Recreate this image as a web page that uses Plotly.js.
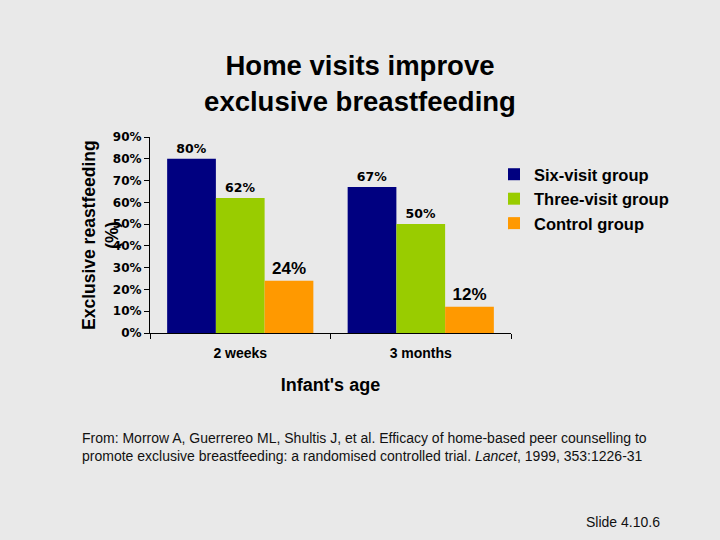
<!DOCTYPE html>
<html>
<head>
<meta charset="utf-8">
<script src="https://cdn.plot.ly/plotly-3.0.1.min.js"></script>
<style>html,body{margin:0;padding:0;background:#e9e9e9;}#chart{width:720px;height:540px;}</style>
</head>
<body>
<div id="chart"></div>
<script>
const categories = ["2 weeks", "3 months"];
const seriesNames = ["Six-visit group", "Three-visit group", "Control group"];
const sixVisit = [80, 67];
const threeVisit = [62, 50];
const control = [24, 12];
const seriesColors = ["#000080", "#99CC00", "#FF9900"];
const labelSizes = [12.5, 12.5, 17];
const labelFonts = ["DejaVu Sans, sans-serif", "DejaVu Sans, sans-serif", "Liberation Sans, Arial, sans-serif"];
const yTickVals = [0, 10, 20, 30, 40, 50, 60, 70, 80, 90];
const yTickText = yTickVals.map(v => v + "%");

const seriesValues = [sixVisit, threeVisit, control];
const traces = seriesValues.map((vals, i) => ({
  type: "bar",
  name: seriesNames[i],
  x: categories,
  y: vals,
  marker: {color: seriesColors[i]},
  text: vals.map(v => v + "%"),
  texttemplate: "%{text}",
  textposition: "outside",
  cliponaxis: false,
  textfont: {family: labelFonts[i], size: labelSizes[i], color: "#000", weight: "bold"},
  hoverinfo: "none"
}));

const W = 720, H = 540, L = 150, R = 511, T = 137, B = 333;
const px = x => (x - L) / (R - L);
const py = y => (B - y) / (B - T);

const layout = {
  width: W, height: H,
  paper_bgcolor: "#e9e9e9",
  plot_bgcolor: "rgba(0,0,0,0)",
  margin: {l: L, r: W - R, t: T, b: H - B, pad: 0},
  font: {family: "Liberation Sans, Arial, sans-serif", color: "#000"},
  title: {
    text: "Home visits improve<br>exclusive breastfeeding",
    font: {size: 27.5, weight: "bold", color: "#000"},
    x: 0.5, xref: "container", xanchor: "center",
    y: 1 - 75 / 540, yref: "container", yanchor: "middle"
  },
  barmode: "group",
  bargap: 0.19,
  bargroupgap: 0,
  showlegend: true,
  legend: {
    x: px(494), xanchor: "left", y: py(157), yanchor: "top",
    bgcolor: "rgba(0,0,0,0)",
    font: {size: 16.5, weight: "bold", color: "#000"},
    itemwidth: 30, tracegroupgap: 0
  },
  xaxis: {
    type: "category",
    showline: true, linecolor: "#000", linewidth: 1,
    ticks: "outside", tickson: "boundaries", ticklen: 5, tickcolor: "#000",
    ticklabelstandoff: 7,
    tickfont: {size: 14, weight: "bold", color: "#000"},
    showgrid: false, zeroline: false,
    title: {text: "Infant's age", font: {size: 18, weight: "bold", color: "#000"}, standoff: 18}
  },
  yaxis: {
    range: [0, 90],
    tickvals: yTickVals, ticktext: yTickText,
    showline: true, linecolor: "#000", linewidth: 1,
    ticks: "outside", ticklen: 5, tickcolor: "#000",
    tickfont: {family: "DejaVu Sans, sans-serif", size: 12, weight: "bold", color: "#000"},
    showgrid: false, zeroline: false
  },
  annotations: [
    {
      text: "Exclusive reastfeeding<br>(%)",
      textangle: -90,
      xref: "paper", yref: "paper",
      x: px(100), y: py(235), xanchor: "center", yanchor: "middle",
      showarrow: false,
      font: {size: 17.5, weight: "bold", color: "#000"}
    },
    {
      text: "From: Morrow A, Guerrereo ML, Shultis J, et al. Efficacy of home-based peer counselling to<br>promote exclusive breastfeeding: a randomised controlled trial. <i>Lancet</i>, 1999, 353:1226-31",
      xref: "paper", yref: "paper",
      x: px(80), y: py(447), xanchor: "left", yanchor: "middle", align: "left",
      showarrow: false,
      font: {size: 14, color: "#111"}
    },
    {
      text: "Slide 4.10.6",
      xref: "paper", yref: "paper",
      x: px(584), y: py(522), xanchor: "left", yanchor: "middle",
      showarrow: false,
      font: {size: 14, color: "#111"}
    }
  ]
};

Plotly.newPlot("chart", traces, layout, {displayModeBar: false, staticPlot: true});
</script>
</body>
</html>
